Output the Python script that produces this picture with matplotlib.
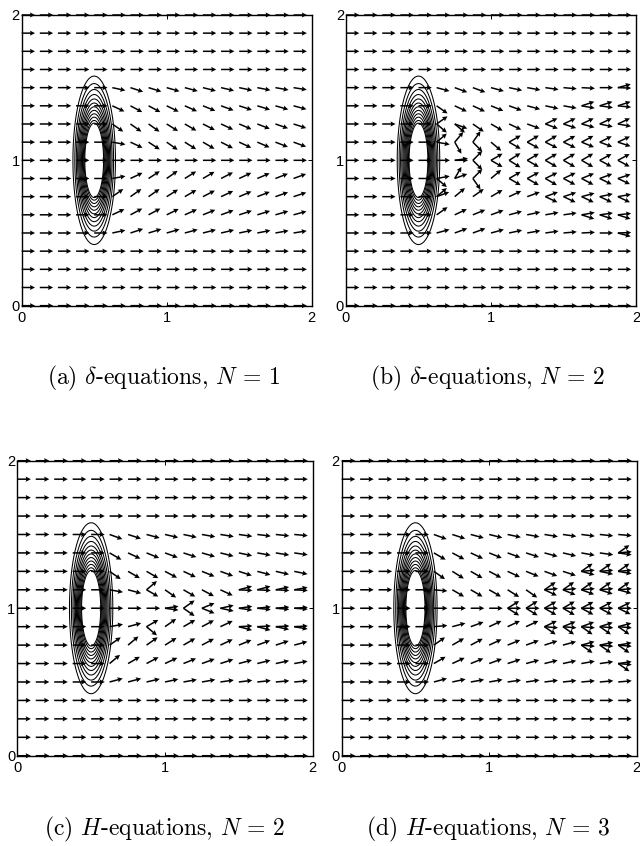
import numpy as np
import matplotlib
matplotlib.use("Agg")
import matplotlib.pyplot as plt

plt.rcParams["mathtext.fontset"] = "cm"
plt.rcParams["font.family"] = ["Liberation Sans", "DejaVu Sans"]
plt.rcParams["axes.unicode_minus"] = False

# ---------------- data ----------------
GRID_X = [0.0, 0.125, 0.25, 0.375, 0.5, 0.625, 0.75, 0.875, 1.0,
          1.125, 1.25, 1.375, 1.5, 1.625, 1.75, 1.875]
GRID_Y = [0.0, 0.125, 0.25, 0.375, 0.5, 0.625, 0.75, 0.875, 1.0,
          1.125, 1.25, 1.375, 1.5, 1.625, 1.75, 1.875, 2.0]

# wake region where the flow direction differs from the free stream (angle 0)
WAKE_X = [0.625, 0.75, 0.875, 1.0, 1.125, 1.25, 1.375, 1.5, 1.625, 1.75, 1.875]
WAKE_Y = [1.5, 1.375, 1.25, 1.125, 1.0, 0.875, 0.75, 0.625, 0.5]

# direction angles (degrees); tuples = several arrows at the same point
ANGLES_A = [
    [-12, -18, -17, -16, -15, -14, -13, -12, -11, -10, -9],
    [-25, -28, -28, -26, -24, -22, -20, -18, -17, -16, -15],
    [-35, -35, -35, -32, -30, -27, -25, -23, -21, -19, -18],
    [-10, -25, -33, -35, -32, -30, -27, -25, -23, -21, -20],
    [0, 0, 0, 0, 0, 0, 0, 0, 0, 0, 0],
    [10, 25, 33, 35, 32, 30, 27, 25, 23, 21, 20],
    [35, 35, 35, 32, 30, 27, 25, 23, 21, 19, 18],
    [25, 28, 28, 26, 24, 22, 20, 18, 17, 16, 15],
    [12, 18, 17, 16, 15, 14, 13, 12, 11, 10, 9],
]
ANGLES_B = [
    [-15, -20, -20, -15, -12, -10, -8, -5, -3, 0, (15, -2)],
    [-35, -25, -25, -22, -20, -15, -12, -10, (18, -10), (18, -8), (18, -6)],
    [(35, -40), (-20, -40), -35, -30, -25, -20, (25, -20), (25, -18), (25, -15), (25, -12), (25, -10)],
    [(40, -10), (50, -60), (55, -45), -40, (30, -30), (30, -28), (30, -26), (28, -25), (28, -22), (26, -20), (25, -18)],
    [0, (0, 8), (45, -45), (30, -30), (32, -32), (30, -30), (30, -30), (30, -30), (30, -30), (28, -28), (28, -28)],
    [(10, -40), (60, 20), (45, -55), 40, (30, -30), (28, -30), (26, -30), (25, -28), (22, -28), (20, -26), (18, -25)],
    [(40, 20), 40, 35, 30, 25, 20, (20, -25), (18, -25), (15, -25), (12, -25), (10, -25)],
    [35, 25, 22, 20, 15, 12, 10, 8, (10, -18), (8, -18), (6, -18)],
    [15, 20, 20, 15, 12, 10, 8, 5, 3, 0, (2, -15)],
]
ANGLES_C = [
    [-20, -18, -15, -13, -12, -10, -9, -8, -7, -6, -5],
    [-30, -25, -22, -20, -18, -16, -14, -12, -10, -9, -8],
    [-35, -30, -30, -28, -25, -22, -20, -18, -15, -13, -12],
    [-10, -15, (-30, 40), -35, -30, -28, -25, (15, -3), (15, -3), (12, -3), (10, -3)],
    [0, 0, 0, (8, -8), (35, -35), (22, -22), (12, -12), (8, -8), (6, -6), (5, -5), (4, -4)],
    [10, 15, (30, -40), 35, 30, 28, 25, (-15, 3), (-15, 3), (-12, 3), (-10, 3)],
    [35, 40, 35, 32, 30, 28, 25, 22, 20, 18, 15],
    [40, 30, 28, 25, 22, 20, 18, 15, 14, 12, 10],
    [15, 15, 13, 12, 10, 10, 8, 7, 6, 5, 5],
]
ANGLES_D = [
    [-20, -18, -15, -14, -12, -10, -9, -8, -7, -6, -5],
    [-30, -28, -25, -22, -20, -18, -15, -13, -10, -8, (35, 5, -8)],
    [-35, -32, -30, -28, -25, -22, -20, -18, (35, 5, -15), (35, 5, -12), (35, 5, -10)],
    [-5, -30, -30, -30, -32, -35, (35, 5, -25), (35, 5, -22), (35, 5, -20), (35, 5, -18), (35, 5, -15)],
    [0, 0, 0, 0, (32, 0, -32), (32, 0, -32), (30, 0, -30), (30, 0, -30), (28, 0, -28), (28, 0, -28), (26, 0, -26)],
    [5, 15, 20, 25, 25, 25, (25, -5, -35), (22, -5, -35), (20, -5, -35), (18, -5, -35), (15, -5, -35)],
    [35, 30, 28, 25, 22, 20, 18, 15, (15, -5, -35), (12, -5, -35), (10, -5, -35)],
    [30, 25, 22, 20, 18, 15, 14, 12, 10, 8, (8, -5, -35)],
    [15, 12, 10, 10, 8, 8, 7, 6, 5, 5, 5],
]
PANELS = [ANGLES_A, ANGLES_B, ANGLES_C, ANGLES_D]
CAPTIONS = [r"(a) $\delta$-equations, $N\,=\,1$",
            r"(b) $\delta$-equations, $N\,=\,2$",
            r"(c) $H$-equations, $N\,=\,2$",
            r"(d) $H$-equations, $N\,=\,3$"]

# lens (obstacle) contour description
LENS_CENTER = (0.5, 1.0)
LENS_WIDTH = (0.0987, 0.39)
LENS_LEVELS = [0.11, 0.16, 0.21, 0.26, 0.31, 0.36, 0.41, 0.46, 0.51, 0.56, 0.61, 0.65]

TICKS = [0, 1, 2]

# ---------------- layout ----------------
AX_POS = [
    [0.0339, 0.6387, 0.4531, 0.3436],
    [0.5406, 0.6387, 0.4531, 0.3436],
    [0.0270, 0.1067, 0.4616, 0.3487],
    [0.5339, 0.1067, 0.4609, 0.3487],
]
CAP_POS = [(0.2555, 0.5532), (0.762, 0.5532), (0.257, 0.0201), (0.762, 0.0201)]
ARROW_LEN = 0.092


def build_field(angles):
    wake = {}
    for yv, row in zip(WAKE_Y, angles):
        for xv, a in zip(WAKE_X, row):
            wake[(xv, yv)] = a if isinstance(a, tuple) else (a,)
    X, Y, U, V = [], [], [], []
    for yv in GRID_Y:
        for xv in GRID_X:
            for a in wake.get((xv, yv), (0,)):
                X.append(xv)
                Y.append(yv)
                U.append(np.cos(np.radians(a)))
                V.append(np.sin(np.radians(a)))
    return X, Y, U, V


fig = plt.figure(figsize=(6.4, 8.46), dpi=100)

gx = np.linspace(0.2, 0.8, 400)
gy = np.linspace(0.2, 1.8, 600)
GXX, GYY = np.meshgrid(gx, gy)
LENS = np.exp(-((GXX - LENS_CENTER[0]) / LENS_WIDTH[0]) ** 2
              - ((GYY - LENS_CENTER[1]) / LENS_WIDTH[1]) ** 2)

for pos, angles, cap, cpos in zip(AX_POS, PANELS, CAPTIONS, CAP_POS):
    ax = fig.add_axes(pos)
    ax.contour(GXX, GYY, LENS, levels=LENS_LEVELS, colors="k", linewidths=0.75)
    X, Y, U, V = build_field(angles)
    q = ax.quiver(X, Y, U, V, angles="xy", scale_units="xy", scale=1 / ARROW_LEN,
                  pivot="tail", color="k", width=0.0052, headwidth=3.4,
                  headlength=3.4, headaxislength=3.0, zorder=3)
    q.set_clip_on(False)
    ax.set_xlim(0, 2)
    ax.set_ylim(0, 2)
    ax.set_xticks(TICKS)
    ax.set_yticks(TICKS)
    ax.set_xticklabels([str(t) for t in TICKS])
    ax.set_yticklabels([str(t) for t in TICKS])
    ax.tick_params(direction="in", top=True, right=True, length=3, width=0.7,
                   labelsize=10.5)
    ax.tick_params(axis="x", pad=4)
    ax.tick_params(axis="y", pad=1.5)
    for s in ax.spines.values():
        s.set_linewidth(1.0)
    fig.text(cpos[0], cpos[1], cap, ha="center", va="center", fontsize=17,
             family="cmr10")

fig.savefig("out.png", dpi=100)
